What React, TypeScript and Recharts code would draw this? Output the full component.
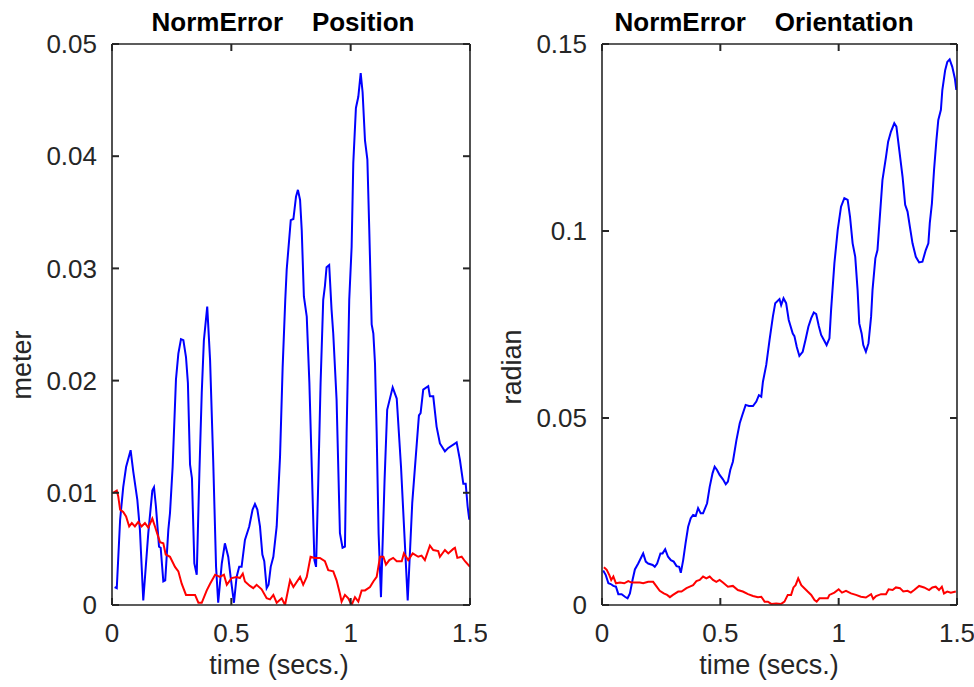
import React from 'react';
import { LineChart, Line, XAxis, YAxis } from 'recharts';

// time (secs.) / value pairs
const posBlue: [number, number][] = [
  [0.011,0.0016],[0.020,0.0015],[0.034,0.0076],[0.047,0.0105],[0.059,0.0123],[0.078,0.0138],[0.089,0.0119],[0.106,0.0094],[0.117,0.0067],[0.131,0.0004],[0.152,0.0064],[0.169,0.0102],[0.176,0.0105],[0.184,0.0088],[0.197,0.0052],[0.204,0.0051],[0.215,0.0021],[0.223,0.0022],[0.236,0.0067],[0.243,0.0082],[0.254,0.0123],[0.268,0.0201],[0.278,0.0224],[0.289,0.0237],[0.299,0.0236],[0.310,0.0221],[0.318,0.0198],[0.327,0.0125],[0.335,0.0113],[0.345,0.0037],[0.355,0.0027],[0.366,0.0117],[0.376,0.0189],[0.385,0.0236],[0.399,0.0266],[0.411,0.0218],[0.424,0.0129],[0.436,0.0034],[0.445,0.0002],[0.460,0.0037],[0.473,0.0055],[0.487,0.0043],[0.497,0.0025],[0.511,0.0002],[0.522,0.0025],[0.533,0.0034],[0.543,0.0034],[0.557,0.0058],[0.575,0.0070],[0.589,0.0085],[0.599,0.0090],[0.609,0.0085],[0.620,0.0070],[0.630,0.0045],[0.638,0.0039],[0.648,0.0015],[0.656,0.0018],[0.665,0.0034],[0.676,0.0043],[0.690,0.0070],[0.704,0.0132],[0.715,0.0212],[0.726,0.0272],[0.732,0.0299],[0.749,0.0343],[0.760,0.0344],[0.771,0.0364],[0.779,0.0370],[0.788,0.0361],[0.795,0.0334],[0.804,0.0275],[0.816,0.0257],[0.827,0.0198],[0.837,0.0123],[0.848,0.0040],[0.855,0.0034],[0.864,0.0108],[0.874,0.0198],[0.885,0.0272],[0.892,0.0284],[0.899,0.0301],[0.910,0.0303],[0.920,0.0263],[0.927,0.0242],[0.941,0.0183],[0.955,0.0064],[0.966,0.0051],[0.976,0.0052],[0.983,0.0153],[0.994,0.0272],[1.004,0.0319],[1.011,0.0394],[1.022,0.0443],[1.032,0.0453],[1.042,0.0474],[1.050,0.0457],[1.060,0.0414],[1.070,0.0397],[1.078,0.0334],[1.088,0.0250],[1.095,0.0242],[1.102,0.0215],[1.109,0.0153],[1.117,0.0064],[1.127,0.0007],[1.142,0.0111],[1.153,0.0174],[1.176,0.0194],[1.193,0.0184],[1.211,0.0123],[1.239,0.0004],[1.258,0.0091],[1.286,0.0169],[1.293,0.0171],[1.304,0.0192],[1.325,0.0195],[1.332,0.0186],[1.346,0.0186],[1.360,0.0159],[1.374,0.0144],[1.395,0.0137],[1.409,0.0140],[1.444,0.0145],[1.458,0.0129],[1.472,0.0108],[1.482,0.0108],[1.490,0.0088],[1.497,0.0076]
];

const posRed: [number, number][] = [
  [0.005,0.0100],[0.020,0.0102],[0.026,0.0097],[0.034,0.0085],[0.047,0.0083],[0.059,0.0079],[0.072,0.0070],[0.083,0.0073],[0.096,0.0070],[0.110,0.0074],[0.124,0.0070],[0.138,0.0073],[0.152,0.0069],[0.169,0.0077],[0.180,0.0070],[0.201,0.0056],[0.215,0.0055],[0.225,0.0045],[0.243,0.0043],[0.264,0.0034],[0.278,0.0030],[0.292,0.0019],[0.310,0.0009],[0.348,0.0009],[0.362,0.0002],[0.376,0.0002],[0.397,0.0013],[0.411,0.0019],[0.432,0.0027],[0.452,0.0025],[0.469,0.0027],[0.481,0.0018],[0.501,0.0024],[0.522,0.0025],[0.536,0.0024],[0.548,0.0028],[0.557,0.0021],[0.578,0.0017],[0.592,0.0015],[0.606,0.0018],[0.627,0.0014],[0.648,0.0006],[0.662,0.0005],[0.676,0.0009],[0.690,0.0002],[0.711,0.0006],[0.725,0.0000],[0.746,0.0022],[0.760,0.0016],[0.788,0.0025],[0.801,0.0018],[0.816,0.0025],[0.832,0.0043],[0.850,0.0042],[0.871,0.0042],[0.892,0.0039],[0.906,0.0031],[0.927,0.0030],[0.941,0.0022],[0.955,0.0010],[0.962,0.0003],[0.976,0.0009],[0.990,0.0006],[1.004,0.0000],[1.018,0.0007],[1.032,0.0003],[1.046,0.0013],[1.060,0.0013],[1.081,0.0016],[1.095,0.0021],[1.109,0.0025],[1.123,0.0043],[1.137,0.0043],[1.148,0.0036],[1.162,0.0040],[1.178,0.0042],[1.193,0.0039],[1.214,0.0039],[1.223,0.0046],[1.241,0.0040],[1.260,0.0046],[1.283,0.0043],[1.297,0.0044],[1.311,0.0040],[1.332,0.0053],[1.346,0.0049],[1.367,0.0048],[1.374,0.0043],[1.395,0.0049],[1.409,0.0046],[1.430,0.0050],[1.437,0.0051],[1.447,0.0042],[1.465,0.0043],[1.479,0.0039],[1.500,0.0034]
];

const oriBlue: [number, number][] = [
  [0.005,0.0092],[0.016,0.0080],[0.027,0.0058],[0.037,0.0056],[0.048,0.0051],[0.059,0.0049],[0.069,0.0029],[0.083,0.0029],[0.097,0.0022],[0.108,0.0018],[0.118,0.0031],[0.129,0.0067],[0.139,0.0095],[0.153,0.0111],[0.167,0.0129],[0.174,0.0138],[0.185,0.0116],[0.195,0.0111],[0.214,0.0107],[0.223,0.0102],[0.233,0.0111],[0.247,0.0138],[0.256,0.0138],[0.267,0.0149],[0.279,0.0129],[0.291,0.0120],[0.303,0.0116],[0.315,0.0104],[0.326,0.0102],[0.333,0.0086],[0.343,0.0120],[0.353,0.0165],[0.364,0.0209],[0.375,0.0232],[0.385,0.0241],[0.396,0.0238],[0.406,0.0259],[0.417,0.0245],[0.427,0.0245],[0.444,0.0272],[0.455,0.0316],[0.467,0.0352],[0.476,0.0370],[0.486,0.0361],[0.497,0.0348],[0.511,0.0336],[0.523,0.0323],[0.532,0.0330],[0.542,0.0361],[0.553,0.0383],[0.568,0.0441],[0.582,0.0486],[0.593,0.0508],[0.607,0.0535],[0.621,0.0532],[0.638,0.0532],[0.652,0.0544],[0.663,0.0561],[0.673,0.0557],[0.680,0.0597],[0.694,0.0642],[0.708,0.0709],[0.722,0.0771],[0.732,0.0807],[0.750,0.0818],[0.757,0.0802],[0.767,0.0820],[0.778,0.0807],[0.789,0.0762],[0.806,0.0726],[0.813,0.0719],[0.823,0.0690],[0.834,0.0666],[0.848,0.0677],[0.860,0.0709],[0.872,0.0744],[0.884,0.0767],[0.895,0.0782],[0.905,0.0778],[0.916,0.0746],[0.926,0.0722],[0.937,0.0709],[0.949,0.0695],[0.961,0.0713],[0.968,0.0789],[0.982,0.0914],[0.996,0.1003],[1.010,0.1065],[1.024,0.1088],[1.038,0.1083],[1.048,0.1038],[1.059,0.0967],[1.070,0.0931],[1.080,0.0842],[1.087,0.0753],[1.097,0.0726],[1.104,0.0695],[1.115,0.0677],[1.126,0.0700],[1.137,0.0771],[1.143,0.0842],[1.155,0.0927],[1.164,0.0949],[1.185,0.1136],[1.200,0.1198],[1.209,0.1239],[1.221,0.1266],[1.235,0.1288],[1.244,0.1279],[1.256,0.1217],[1.270,0.1145],[1.281,0.1070],[1.291,0.1052],[1.301,0.1011],[1.312,0.0967],[1.326,0.0931],[1.340,0.0916],[1.354,0.0918],[1.368,0.0949],[1.379,0.0967],[1.385,0.1021],[1.394,0.1074],[1.403,0.1163],[1.413,0.1243],[1.421,0.1297],[1.432,0.1324],[1.438,0.1377],[1.450,0.1430],[1.459,0.1452],[1.469,0.1459],[1.480,0.1439],[1.491,0.1408],[1.497,0.1377]
];

const oriRed: [number, number][] = [
  [0.008,0.0101],[0.020,0.0094],[0.031,0.0080],[0.039,0.0067],[0.048,0.0076],[0.059,0.0058],[0.076,0.0060],[0.094,0.0058],[0.111,0.0064],[0.125,0.0060],[0.146,0.0060],[0.160,0.0060],[0.174,0.0058],[0.195,0.0062],[0.216,0.0062],[0.231,0.0049],[0.244,0.0038],[0.261,0.0031],[0.275,0.0027],[0.287,0.0021],[0.300,0.0027],[0.322,0.0036],[0.336,0.0036],[0.357,0.0045],[0.371,0.0049],[0.385,0.0053],[0.399,0.0064],[0.413,0.0067],[0.427,0.0076],[0.441,0.0071],[0.455,0.0076],[0.469,0.0067],[0.483,0.0062],[0.497,0.0067],[0.511,0.0060],[0.532,0.0049],[0.553,0.0051],[0.574,0.0040],[0.595,0.0036],[0.617,0.0029],[0.638,0.0024],[0.659,0.0021],[0.673,0.0022],[0.687,0.0009],[0.701,0.0009],[0.715,0.0003],[0.736,0.0004],[0.757,0.0003],[0.771,0.0009],[0.785,0.0027],[0.799,0.0027],[0.809,0.0047],[0.818,0.0053],[0.829,0.0071],[0.842,0.0053],[0.855,0.0045],[0.869,0.0036],[0.884,0.0027],[0.898,0.0013],[0.907,0.0009],[0.919,0.0018],[0.940,0.0018],[0.954,0.0018],[0.961,0.0027],[0.982,0.0033],[1.000,0.0042],[1.014,0.0033],[1.031,0.0038],[1.052,0.0031],[1.073,0.0027],[1.094,0.0022],[1.115,0.0020],[1.137,0.0029],[1.146,0.0016],[1.158,0.0024],[1.179,0.0029],[1.200,0.0029],[1.211,0.0042],[1.228,0.0040],[1.242,0.0047],[1.259,0.0045],[1.273,0.0036],[1.291,0.0038],[1.305,0.0033],[1.319,0.0040],[1.340,0.0051],[1.361,0.0047],[1.382,0.0040],[1.396,0.0047],[1.410,0.0049],[1.424,0.0040],[1.436,0.0049],[1.445,0.0031],[1.459,0.0036],[1.474,0.0033],[1.495,0.0036]
];

const xTicks = [0, 0.5, 1, 1.5];
const posTicks = [0, 0.01, 0.02, 0.03, 0.04, 0.05];
const oriTicks = [0, 0.05, 0.1, 0.15];

const toRows = (arr: [number, number][]) => arr.map(([t, v]) => ({ t, v }));

const AXIS = '#262626';
const FONT = '"Liberation Sans", Arial, Helvetica, sans-serif';
const TICK_LEN = 7;
const TICK_W = 2;

// Custom tick renderers: Recharts hands over each tick's screen position; each draws an inward tick mark.
const BottomTick = (p: any) => {
  const x = Number(p.x);
  const base = Number(p.y);
  return (
    <g>
      <path d={`M${x},${base}L${x},${base - TICK_LEN}`} stroke={AXIS} strokeWidth={TICK_W} fill="none" />
      <text x={x} y={base + 37} textAnchor="middle" fill={AXIS} stroke="none" fontSize={26} fontFamily={FONT}>
        {String(p.payload.value)}
      </text>
    </g>
  );
};
const TopTick = (p: any) => {
  const x = Number(p.x);
  const base = Number(p.y);
  return <path d={`M${x},${base}L${x},${base + TICK_LEN}`} stroke={AXIS} strokeWidth={TICK_W} fill="none" />;
};
const LeftTick = (p: any) => {
  const xx = Number(p.x);
  const y = Number(p.y);
  return (
    <g>
      <path d={`M${xx},${y}L${xx + TICK_LEN},${y}`} stroke={AXIS} strokeWidth={TICK_W} fill="none" />
      <text x={xx - 15} y={y + 9.2} textAnchor="end" fill={AXIS} stroke="none" fontSize={26} fontFamily={FONT}>
        {String(p.payload.value)}
      </text>
    </g>
  );
};
const RightTick = (p: any) => {
  const xx = Number(p.x);
  const y = Number(p.y);
  return <path d={`M${xx},${y}L${xx - TICK_LEN},${y}`} stroke={AXIS} strokeWidth={TICK_W} fill="none" />;
};

type PanelProps = {
  left: number;
  marginLeft: number;
  yTicks: number[];
  yMax: number;
  blue: [number, number][];
  red: [number, number][];
};

function Panel({ left, marginLeft, yTicks, yMax, blue, red }: PanelProps) {
  const axisLine = { stroke: AXIS, strokeWidth: 1.6 };
  return (
    <div style={{ position: 'absolute', left, top: 0 }}>
      <LineChart width={487} height={687} margin={{ top: 42, right: 15, bottom: 32, left: marginLeft }}>
        <XAxis
          xAxisId="b"
          dataKey="t"
          type="number"
          domain={[0, 1.5]}
          ticks={xTicks}
          allowDataOverflow
          height={50}
          tickSize={0}
          tickMargin={0}
          tickLine={false}
          tick={<BottomTick />}
          axisLine={axisLine}
          interval={0}
        />
        <XAxis
          xAxisId="t"
          orientation="top"
          dataKey="t"
          type="number"
          domain={[0, 1.5]}
          ticks={xTicks}
          allowDataOverflow
          height={2}
          tickSize={0}
          tickMargin={0}
          tickLine={false}
          tick={<TopTick />}
          axisLine={axisLine}
          interval={0}
        />
        <YAxis
          yAxisId="l"
          type="number"
          domain={[0, yMax]}
          ticks={yTicks}
          allowDataOverflow
          width={70}
          tickSize={0}
          tickMargin={0}
          tickLine={false}
          tick={<LeftTick />}
          axisLine={axisLine}
          interval={0}
        />
        <YAxis
          yAxisId="r"
          orientation="right"
          type="number"
          domain={[0, yMax]}
          ticks={yTicks}
          allowDataOverflow
          width={2}
          tickSize={0}
          tickMargin={0}
          tickLine={false}
          tick={<RightTick />}
          axisLine={axisLine}
          interval={0}
        />
        <Line
          xAxisId="b"
          yAxisId="l"
          data={toRows(blue)}
          dataKey="v"
          type="linear"
          stroke="#0000ff"
          strokeWidth={2}
          dot={false}
          isAnimationActive={false}
        />
        <Line
          xAxisId="b"
          yAxisId="l"
          data={toRows(red)}
          dataKey="v"
          type="linear"
          stroke="#ff0000"
          strokeWidth={2}
          dot={false}
          isAnimationActive={false}
        />
      </LineChart>
    </div>
  );
}

export default function App() {
  const labelStyle: React.CSSProperties = { whiteSpace: 'pre' };
  return (
    <div style={{ position: 'absolute', left: 0, top: 0, width: 974, height: 687, background: '#fff' }}>
      <Panel left={0} marginLeft={42} yTicks={posTicks} yMax={0.05} blue={posBlue} red={posRed} />
      <Panel left={487} marginLeft={45} yTicks={oriTicks} yMax={0.15} blue={oriBlue} red={oriRed} />
      <svg width={974} height={687} style={{ position: 'absolute', left: 0, top: 0, pointerEvents: 'none' }}>
        <g fontFamily={FONT} fill="#000">
          <text x={283} y={22} fontSize={26} fontWeight="bold" textAnchor="middle" dominantBaseline="central" style={labelStyle}>{'NormError    Position'}</text>
          <text x={764} y={22} fontSize={26} fontWeight="bold" textAnchor="middle" dominantBaseline="central" style={labelStyle}>{'NormError    Orientation'}</text>
        </g>
        <g fontFamily={FONT} fill={AXIS} fontSize={27}>
          <text x={279} y={665} textAnchor="middle" dominantBaseline="central">time (secs.)</text>
          <text x={769} y={665} textAnchor="middle" dominantBaseline="central">time (secs.)</text>
          <text x={22} y={365} textAnchor="middle" dominantBaseline="central" transform="rotate(-90 22 365)">meter</text>
          <text x={512} y={367} textAnchor="middle" dominantBaseline="central" transform="rotate(-90 512 367)">radian</text>
        </g>
      </svg>
    </div>
  );
}
